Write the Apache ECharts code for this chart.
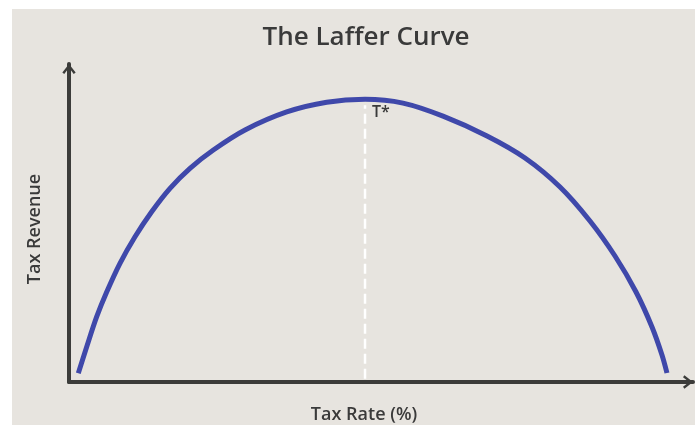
<!DOCTYPE html>
<html>
<head>
<meta charset="utf-8">
<script src="https://cdn.jsdelivr.net/npm/echarts@6/dist/echarts.min.js"></script>
<style>
  html, body { margin: 0; padding: 0; background: #ffffff; }
  #chart { width: 695px; height: 425px; }
</style>
</head>
<body>
<div id="chart"></div>
<script>
// tax rate (% of axis length) and revenue
const taxRate = [1.49, 2.84, 4.44, 6.04, 8.17, 10.58, 13.25, 16.19, 19.39, 23.13, 28.21, 34.89, 41.30, 47.44,
  53.53, 59.94, 66.99, 73.08, 78.69, 83.49, 87.50, 90.87, 93.43, 95.03, 95.83];
const revenue = [2.74, 11.10, 20.53, 28.30, 37.33, 45.69, 53.55, 60.91, 67.20, 72.96, 79.25, 84.91, 87.96, 88.90,
  87.70, 83.60, 77.36, 70.44, 61.32, 50.63, 39.62, 28.30, 17.30, 8.49, 2.83];
// optimal rate T* and the dashed guide below it
const optimalRate = 47.44;
const guideRange = [1, 87];

const font = '"Open Sans", "Noto Sans", sans-serif';
const axisColor = '#3c3c3a';
const textColor = '#3a3a3a';
// open chevron arrow pointing up
const chevron = 'path://M0,9 L7,0 L14,9 L12,10.5 L7,4 L2,10.5 Z';

const chart = echarts.init(document.getElementById('chart'));

const option = {
  backgroundColor: '#ffffff',
  animation: false,
  graphic: [
    {
      type: 'rect',
      z: -10,
      shape: { x: 12, y: 9, width: 683, height: 416 },
      style: { fill: '#e7e4df' }
    }
  ],
  title: {
    text: 'The Laffer Curve',
    left: 361,
    textAlign: 'center',
    top: 20,
    textStyle: {
      fontFamily: font,
      fontSize: 26,
      fontWeight: 600,
      color: textColor
    }
  },
  grid: {
    left: 69,
    right: 2,
    top: 64,
    bottom: 43,
    outerBoundsMode: 'none'
  },
  xAxis: {
    type: 'value',
    min: 0,
    max: 100,
    name: 'Tax Rate (%)',
    nameLocation: 'middle',
    nameGap: 24,
    nameTextStyle: {
      fontFamily: font, fontSize: 18, fontWeight: 600, color: textColor,
      padding: [0, 34, 0, 0]
    },
    axisLine: {
      show: true,
      symbol: ['none', chevron],
      symbolSize: [14, 10],
      symbolOffset: [0, -5],
      lineStyle: { color: axisColor, width: 4 }
    },
    axisTick: { show: false },
    axisLabel: { show: false },
    splitLine: { show: false }
  },
  yAxis: {
    type: 'value',
    min: 0,
    max: 100,
    name: 'Tax Revenue',
    nameLocation: 'middle',
    nameGap: 25,
    nameTextStyle: {
      fontFamily: font, fontSize: 18, fontWeight: 600, color: textColor,
      padding: [0, 12, 0, 0]
    },
    axisLine: {
      show: true,
      symbol: ['none', chevron],
      symbolSize: [14, 10],
      symbolOffset: [0, -5],
      lineStyle: { color: axisColor, width: 4 }
    },
    axisTick: { show: false },
    axisLabel: { show: false },
    splitLine: { show: false }
  },
  series: [
    {
      name: 'guide',
      type: 'line',
      data: [[optimalRate, guideRange[0]], [optimalRate, guideRange[1]]],
      symbol: 'none',
      lineStyle: { color: '#ffffff', width: 2.5, type: [10, 5] },
      z: 1,
      endLabel: {
        show: true,
        formatter: 'T*',
        offset: [-1, 7],
        fontFamily: font,
        fontSize: 16,
        fontWeight: 600,
        color: textColor
      }
    },
    {
      name: 'Laffer',
      type: 'line',
      data: taxRate.map((x, i) => [x, revenue[i]]),
      smooth: 0.3,
      symbol: 'none',
      lineStyle: { color: '#3f48aa', width: 5 },
      z: 3
    }
  ]
};

chart.setOption(option);
</script>
</body>
</html>
